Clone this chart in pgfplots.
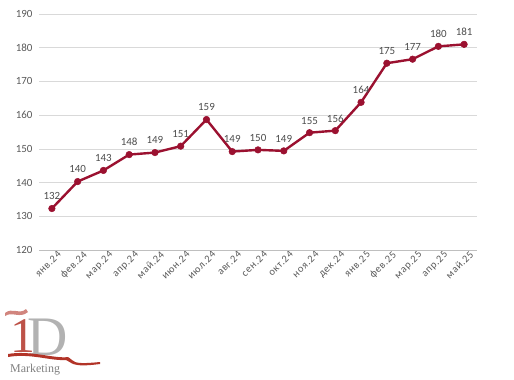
\documentclass[border=0pt]{standalone}
\usepackage{pgfplots}
\pgfplotsset{compat=1.18}
\usepackage{fontspec}
\setmainfont{Carlito}
\newfontfamily\spacedfont[LetterSpace=6]{Carlito}
\newfontfamily\logofont{Liberation Serif}
\definecolor{linered}{RGB}{155,17,48}
\definecolor{gridgray}{RGB}{217,217,217}
\definecolor{axisgray}{RGB}{191,191,191}
\definecolor{textgray}{RGB}{89,89,89}
\definecolor{logored}{RGB}{178,52,40}
\begin{document}
\begin{tikzpicture}[x=1bp,y=1bp]
\useasboundingbox (0,0) rectangle (514,379);
\begin{axis}[
  at={(39bp,129bp)}, anchor=south west,
  scale only axis, width=438bp, height=236bp,
  xmin=-0.5, xmax=16.5, ymin=120, ymax=190,
  ytick={120,130,...,190},
  xtick={0,...,16},
  xticklabels={янв.24,фев.24,мар.24,апр.24,май.24,июн.24,июл.24,авг.24,сен.24,окт.24,ноя.24,дек.24,янв.25,фев.25,мар.25,апр.25,май.25},
  ticklabel style={font=\fontsize{11}{13}\selectfont, text=textgray},
  x tick label style={font=\spacedfont\fontsize{10.5}{12}\selectfont, rotate=45, anchor=north east, inner sep=0.5pt, xshift=4bp, yshift=-3bp},
  /pgf/number format/assume math mode=true,
  major x tick style={draw=none},
  extra x ticks={-0.5,0.5,...,16.5},
  extra x tick labels={},
  extra x tick style={grid=none, tick align=outside, major tick length=4bp, tick style={draw=axisgray, line width=0.6bp}},
  ymajorgrids, grid style={draw=gridgray, line width=0.6bp},
  major y tick style={draw=none},
  axis line style={draw=none},
  y tick label style={xshift=-3bp},
  clip=false,
]
\draw[axisgray, line width=0.7bp] (axis cs:-0.5,120) -- (axis cs:16.5,120);
\addplot[color=linered, line width=2.4bp, mark=*, mark size=3.3bp,
  mark options={fill=linered, draw=linered, line width=0.5bp},
  nodes near coords, point meta=explicit symbolic,
  every node near coord/.append style={font=\fontsize{11}{13}\selectfont, text=textgray!85!black, anchor=south, yshift=5bp}]
  table[meta=lab] {
x y lab
0 132.3 132
1 140.3 140
2 143.6 143
3 148.3 148
4 148.9 149
5 150.8 151
6 158.7 159
7 149.2 149
8 149.7 150
9 149.4 149
10 154.8 155
11 155.4 156
12 163.8 164
13 175.4 175
14 176.6 177
15 180.4 180
16 181.0 181
};
\end{axis}
% logo
\node[text=gray!60, font=\logofont\fontsize{56}{56}\selectfont, anchor=base west, inner sep=0pt] at (27,24) {D};
\node[text=logored!85, font=\logofont\fontsize{50}{50}\selectfont, anchor=base, inner sep=0pt] at (23,27) {1};
\fill[logored!60] (5,66) .. controls (12,72) and (20,64) .. (26,70) -- (28,67) .. controls (20,60) and (12,68) .. (5,63) -- cycle;
\fill[logored] (8,25) .. controls (30,29) and (55,20) .. (68,22) .. controls (75,18) and (70,14) .. (100,17) -- (100,15) .. controls (70,11) and (72,17) .. (66,19) .. controls (50,18) and (30,26) .. (8,22) -- cycle;
\node[text=gray, font=\logofont\fontsize{12}{12}\selectfont, anchor=base west, inner sep=0pt] at (10,7) {Marketing};
\end{tikzpicture}
\end{document}
